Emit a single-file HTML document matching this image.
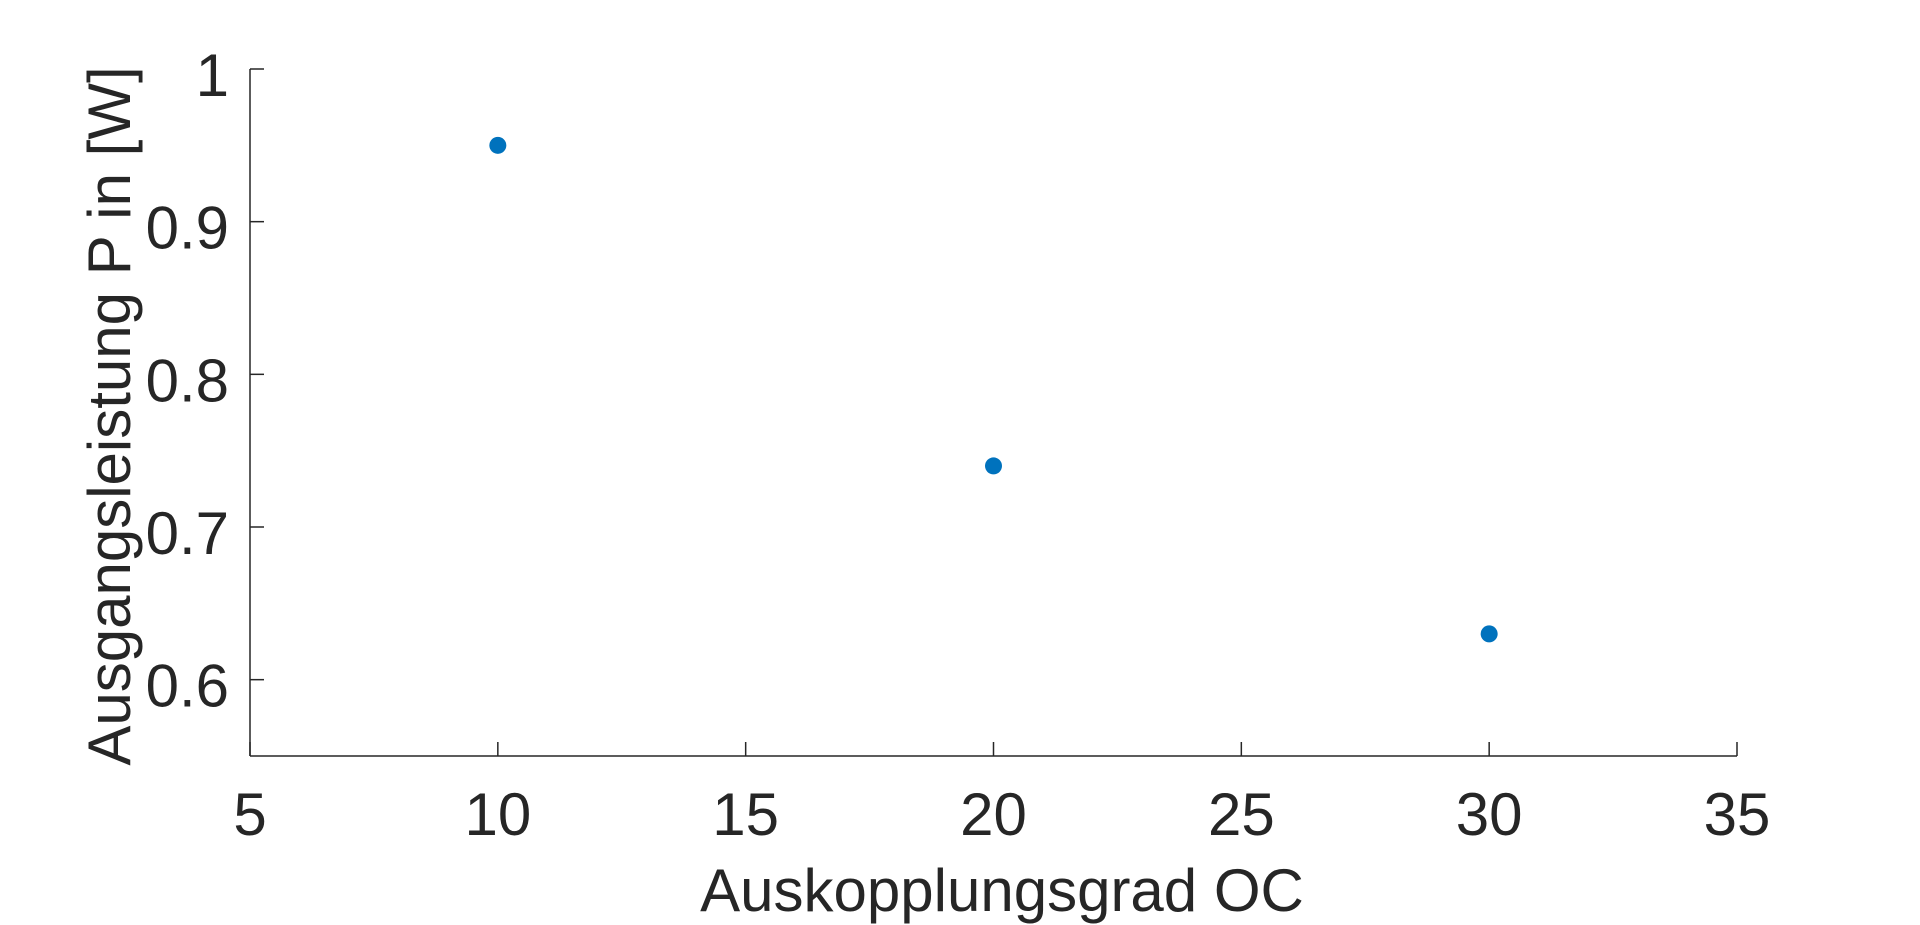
<!DOCTYPE html>
<html><head><meta charset="utf-8"><style>
html,body{margin:0;padding:0;background:#fff;}
svg{display:block;font-family:"Liberation Sans",Arial,sans-serif;}
</style></head><body>
<svg id="chart" width="1920" height="925">
<g id="axes"></g>
<g id="marks"></g>
<text x="1002" y="911" font-size="60" fill="#262626" text-anchor="middle">Auskopplungsgrad OC</text>
<text transform="translate(130,416) rotate(-90)" font-size="60" fill="#262626" text-anchor="middle">Ausgangsleistung P in [W]</text>
</svg>
<script>
const xCategories = [10, 20, 30];
const yValues = [0.95, 0.74, 0.63];
const xTicks = [5, 10, 15, 20, 25, 30, 35];
const yTicks = [0.6, 0.7, 0.8, 0.9, 1];
const yTickLabels = ["0.6", "0.7", "0.8", "0.9", "1"];

const L=250,R=1737,T=69,B=756,xMin=5,xMax=35,yMin=0.55,yMax=1;
const sx=v=>L+(v-xMin)/(xMax-xMin)*(R-L);
const sy=v=>B-(v-yMin)/(yMax-yMin)*(B-T);
const NS="http://www.w3.org/2000/svg";
const axes=document.getElementById('axes'), marks=document.getElementById('marks');
function mk(tag,attrs,parent){const e=document.createElementNS(NS,tag);for(const k in attrs)e.setAttribute(k,attrs[k]);parent.appendChild(e);return e;}
const xl=mk('line',{x1:L,y1:B,x2:R,y2:B,stroke:'#262626','stroke-width':1.5},axes);


const yl=mk('line',{x1:L,y1:T,x2:L,y2:B,stroke:'#262626','stroke-width':1.5},axes);


xTicks.forEach(v=>{
  const t=mk('line',{x1:sx(v),y1:B,x2:sx(v),y2:B-14,stroke:'#262626','stroke-width':1.5},axes);
  
  
  const l=mk('text',{x:sx(v),y:835,'font-size':60,fill:'#262626','text-anchor':'middle'},axes);
  l.textContent=String(v);
  
  
});
yTicks.forEach((v,i)=>{
  const t=mk('line',{x1:L,y1:sy(v),x2:L+14,y2:sy(v),stroke:'#262626','stroke-width':1.5},axes);
  
  
  const l=mk('text',{x:229,y:sy(v)+27,'font-size':60,fill:'#262626','text-anchor':'end'},axes);
  l.textContent=yTickLabels[i];
  
  
});
xCategories.forEach((c,i)=>{
  const p=mk('circle',{cx:sx(c),cy:sy(yValues[i]),r:8.5,fill:'#0072BD'},marks);
  
  
});
</script>
</body></html>
